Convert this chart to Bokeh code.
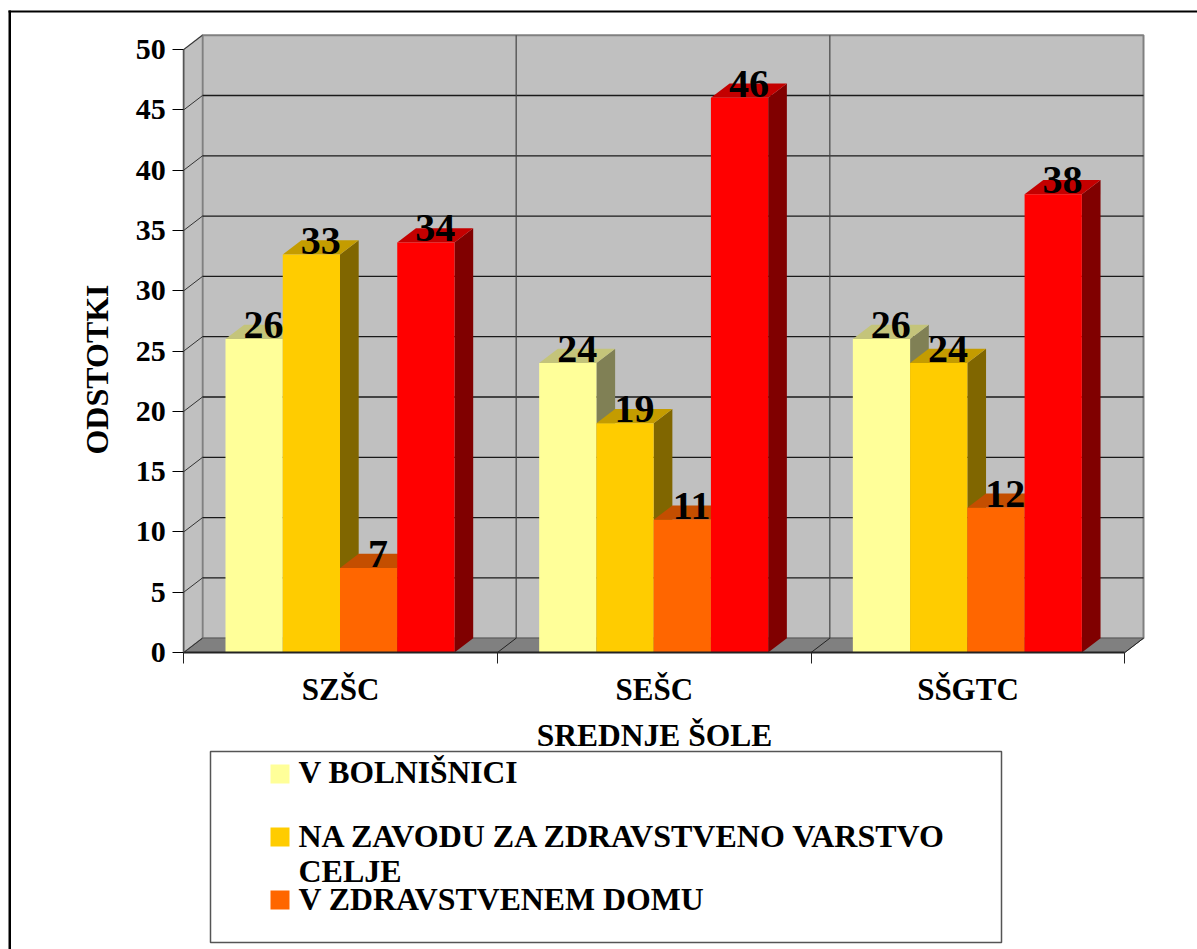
from bokeh.plotting import figure
from bokeh.embed import file_html
from bokeh.resources import INLINE
from bokeh.models import Range1d, FixedTicker, BoxAnnotation, Label, LinearAxis
from bokeh.core.properties import value
import math

# ---- data ----
categories = ["SZŠC", "SEŠC", "SŠGTC"]
series_names = ["V BOLNIŠNICI", "NA ZAVODU ZA ZDRAVSTVENO VARSTVO\nCELJE", "V ZDRAVSTVENEM DOMU"]
v_bolnisnici = [26, 24, 26]
na_zavodu = [33, 19, 24]
v_zd_domu = [7, 11, 12]
rdeca = [34, 46, 38]  # fourth series: its legend row is cut off in the reference
y_ticks = [0, 5, 10, 15, 20, 25, 30, 35, 40, 45, 50]
x_title = "SREDNJE ŠOLE"
y_title = "ODSTOTKI"

front = ["#FFFF99", "#FFCC00", "#FF6600", "#FF0000"]
top_c = ["#C4C47A", "#C49C00", "#C44E00", "#C40000"]
side_c = ["#808055", "#806600", "#803300", "#800000"]
series = [v_bolnisnici, na_zavodu, v_zd_domu, rdeca]

# ---- geometry of the 1197x949 page ----
SLOT = 313.67; UNIT = 12.06
X0, Y0 = 183.3, 652
W, H = 1197, 949
def fx(px): return (px - X0) / SLOT
def fy(py): return (Y0 - py) / UNIT
DX = 18.7 / SLOT; DY = 14.3 / UNIT
BAR0 = 41.7 / SLOT; BARW = 57.25 / SLOT
FONT = "Liberation Serif"

p = figure(width=W, height=H, output_backend="svg", toolbar_location=None,
           x_range=Range1d(fx(0), fx(W)), y_range=Range1d(fy(H), fy(0)),
           x_axis_type=None, y_axis_type=None,
           min_border=0)
p.outline_line_color = None
p.grid.visible = False
p.background_fill_color = "white"

n = len(categories)
end_x = float(n)
top_y = float(y_ticks[-1])

# walls and floor
p.patch([DX, end_x + DX, end_x + DX, DX], [DY, DY, top_y + DY, top_y + DY],
        fill_color="#C0C0C0", line_color="#808080", line_width=2)
p.patch([0, DX, DX, 0], [0, DY, top_y + DY, top_y],
        fill_color="#C0C0C0", line_color="#808080", line_width=1.5)
p.patch([0, end_x, end_x + DX, DX], [0, 0, DY, DY],
        fill_color="#808080", line_color="#606060", line_width=1)

# gridlines
gt = [t for t in y_ticks if 0 < t < y_ticks[-1]]
p.multi_line([[DX, end_x + DX] for _ in gt], [[t + DY, t + DY] for t in gt],
             line_color="#1a1a1a", line_width=1.3)
p.multi_line([[0, DX] for _ in y_ticks], [[t, t + DY] for t in y_ticks],
             line_color="#333333", line_width=1)
# category separators on the wall and floor
p.multi_line([[i + DX, i + DX] for i in range(1, n)], [[DY, top_y + DY] for _ in range(1, n)],
             line_color="#444444", line_width=1.2)
p.multi_line([[i, i + DX] for i in range(1, n + 1)], [[0, DY] for _ in range(1, n + 1)],
             line_color="#222222", line_width=1)

# 3D bars
for s, vals in enumerate(series):
    xl = [g + BAR0 + s * BARW for g in range(n)]
    xr = [a + BARW for a in xl]
    p.patches([[r, r + DX, r + DX, r] for r in xr],
              [[0, DY, v + DY, v] for v in vals],
              fill_color=side_c[s], line_color=None)
    p.patches([[l, r, r + DX, l + DX] for l, r in zip(xl, xr)],
              [[v, v, v + DY, v + DY] for v in vals],
              fill_color=top_c[s], line_color=None)
    p.quad(left=xl, right=xr, bottom=0, top=vals, fill_color=front[s], line_color=None)

# data labels
for s, vals in enumerate(series):
    xc = [g + BAR0 + (s + 0.5) * BARW + DX / 2 for g in range(n)]
    p.text(xc, vals, text=[str(v) for v in vals], text_align="center",
           text_baseline="bottom", y_offset=-1, text_font=value(FONT), text_font_style="bold",
           text_font_size="40px", text_color="black")

# axes
yax = LinearAxis(ticker=FixedTicker(ticks=y_ticks), bounds=(0, y_ticks[-1]), fixed_location=0)
yax.major_label_text_font = FONT
yax.major_label_text_font_style = "bold"
yax.major_label_text_font_size = "30px"
yax.major_label_text_color = "black"
yax.major_tick_in = 0; yax.major_tick_out = 11
yax.major_tick_line_color = "black"; yax.major_tick_line_width = 1
yax.minor_tick_line_color = None
yax.axis_line_color = "#555555"; yax.axis_line_width = 1.5
yax.major_label_standoff = 7
p.add_layout(yax, "left")

centres = [i + 0.5 for i in range(n)]
xax = LinearAxis(ticker=FixedTicker(ticks=centres, minor_ticks=list(range(n + 1))), bounds=(0, n), fixed_location=0)
xax.major_label_overrides = {c: t for c, t in zip(centres, categories)}
xax.major_label_text_font = FONT
xax.major_label_text_font_style = "bold"
xax.major_label_text_font_size = "31px"
xax.major_label_text_color = "black"
xax.major_tick_line_color = None
xax.minor_tick_in = 0; xax.minor_tick_out = 11
xax.minor_tick_line_color = "#222222"
xax.axis_line_color = "#222222"; xax.axis_line_width = 2
xax.major_label_standoff = 8
p.add_layout(xax, "below")

def text(px, py, s, size=31, **kw):
    opts = dict(text_font=FONT, text_font_style="bold", text_font_size=f"{size}px",
                text_color="black", text_baseline="bottom")
    opts.update(kw)
    p.add_layout(Label(x=fx(px), y=fy(py), text=s, **opts))

def box(l, r, t, b, **kw):
    p.add_layout(BoxAnnotation(left=fx(l), right=fx(r), top=fy(t), bottom=fy(b), level="annotation", **kw))

text(654, 752, x_title, size=31.5, text_align="center")
text(114, 369, y_title, size=32, text_align="center", angle=math.pi / 2)

# page border (left and top run off the picture)
box(8, 1197, 10, 12, fill_color="black", fill_alpha=1, line_color=None)
box(8, 10.5, 10, 949, fill_color="black", fill_alpha=1, line_color=None)

# legend
box(210, 1001, 751, 942, fill_color="white", fill_alpha=1, line_color="#555555", line_width=1.5, line_alpha=1)
rows = [(764, 783, 789, 31.5), (827, 846, 853, 32), (890, 909, 916, 31.8)]
for i, (t, b, base, size) in enumerate(rows):
    box(270, 289, t, b, fill_color=front[i], fill_alpha=1, line_color=None)
    for k, ln in enumerate(series_names[i].split("\n")):
        text(298, base + 35 * k, ln, size=size)

open("out.html", "w").write(file_html(p, INLINE))
